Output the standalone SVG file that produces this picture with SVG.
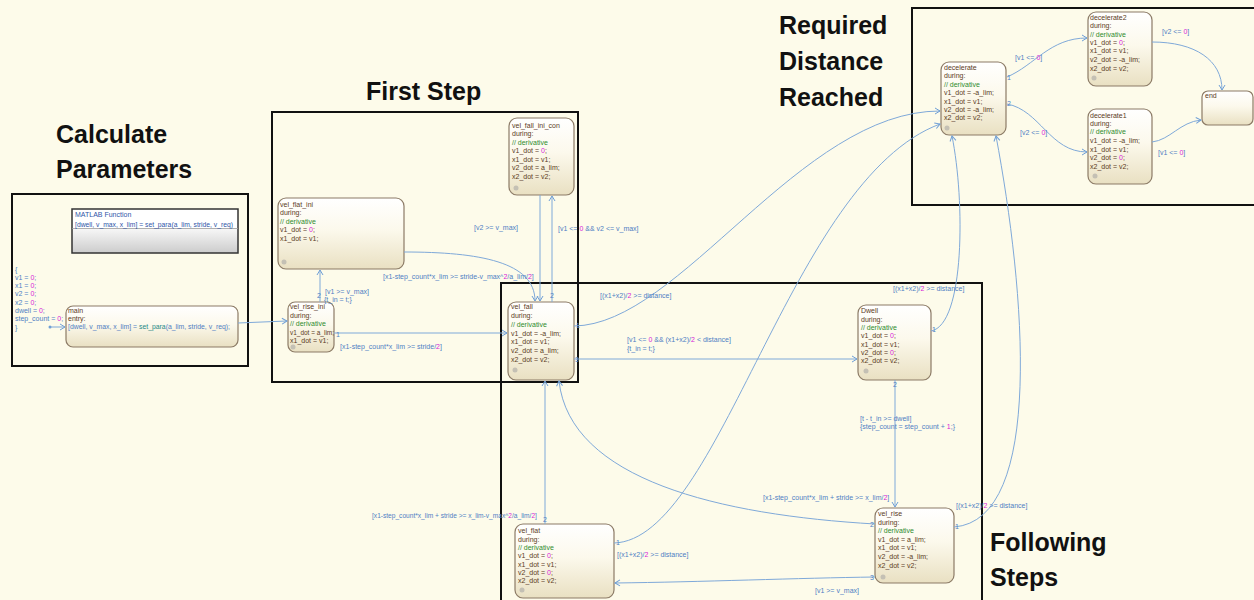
<svg xmlns="http://www.w3.org/2000/svg" width="1254" height="600" viewBox="0 0 1254 600">
<defs>
<linearGradient id="sg" x1="0" y1="0" x2="0" y2="1">
<stop offset="0" stop-color="#ffffff"/>
<stop offset="0.45" stop-color="#fcf9ec"/>
<stop offset="1" stop-color="#e9e0c2"/>
</linearGradient>
<linearGradient id="mg" x1="0" y1="0" x2="0" y2="1">
<stop offset="0" stop-color="#ffffff"/>
<stop offset="0.44" stop-color="#ffffff"/>
<stop offset="0.46" stop-color="#f6f6f6"/>
<stop offset="1" stop-color="#cccccc"/>
</linearGradient>
<marker id="ar" markerUnits="userSpaceOnUse" markerWidth="8" markerHeight="8" refX="6" refY="4" orient="auto">
<path d="M1,1 L6,4 L1,7" fill="none" stroke="#6f9fd6" stroke-width="1"/>
</marker>
<style>
.hd{font-family:"Liberation Sans",Arial,sans-serif;font-weight:bold;font-size:25px;fill:#111}
.bx{fill:none;stroke:#111;stroke-width:2}
.st{fill:url(#sg);stroke:#8c7b66;stroke-width:1.2}
.tx{font-family:"Liberation Sans",Arial,sans-serif;font-size:7px;fill:#5b3b1c}
.cm{fill:#2e8b2e}
.nm{fill:#d81bd8}
.lb{font-family:"Liberation Sans",Arial,sans-serif;font-size:7px;fill:#4f80c4}
.fn{fill:#1f8a8a}
.tr{fill:none;stroke:#7fa9d9;stroke-width:1;marker-end:url(#ar)}
.dot{fill:#c4c0b4}
</style>
</defs>
<rect x="0" y="0" width="1254" height="600" fill="#fdfbea"/>

<g id="headings">
<text class="hd" x="56" y="143">Calculate</text>
<text class="hd" x="56" y="178">Parameters</text>
<text class="hd" x="366" y="100">First Step</text>
<text class="hd" x="779" y="34">Required</text>
<text class="hd" x="779" y="70">Distance</text>
<text class="hd" x="779" y="106">Reached</text>
<text class="hd" x="990" y="551">Following</text>
<text class="hd" x="990" y="586">Steps</text>
</g>

<g id="frames">
<rect class="bx" x="12" y="194" width="236" height="172"/>
<rect class="bx" x="272" y="112" width="306" height="270"/>
<rect class="bx" x="501" y="283" width="481" height="330"/>
<rect class="bx" x="912" y="8" width="350" height="197"/>
</g>

<g id="init">
<text class="lb" x="15" y="271.5">{</text>
<text class="lb" x="15" y="279.8">v1 = <tspan class="nm">0</tspan>;</text>
<text class="lb" x="15" y="288.1">x1 = <tspan class="nm">0</tspan>;</text>
<text class="lb" x="15" y="296.4">v2 = <tspan class="nm">0</tspan>;</text>
<text class="lb" x="15" y="304.7">x2 = <tspan class="nm">0</tspan>;</text>
<text class="lb" x="15" y="313">dwell = <tspan class="nm">0</tspan>;</text>
<text class="lb" x="15" y="321.3">step_count = <tspan class="nm">0</tspan>;</text>
<text class="lb" x="15" y="329.6">}</text>
</g>

<g id="matlab_function">
<rect x="72" y="209" width="166" height="44" fill="url(#mg)" stroke="#333" stroke-width="1.5"/>
<line x1="72" y1="228.5" x2="238" y2="228.5" stroke="#9a9a9a" stroke-width="0.8"/>
<text class="lb" x="75" y="216.5" style="fill:#2f55a8">MATLAB Function</text>
<text class="lb" x="75" y="226.5" style="fill:#2f55a8" textLength="158" lengthAdjust="spacingAndGlyphs">[dwell, v_max, x_lim] = set_para(a_lim, stride, v_req)</text>
</g>

<g id="main">
<rect class="st" x="66" y="306" width="172" height="41" rx="7"/>
<text class="tx" x="68" y="312.5">main</text>
<text class="tx" x="68" y="320.5">entry:</text>
<text class="lb" x="68" y="329" textLength="162" lengthAdjust="spacingAndGlyphs">[dwell, v_max, x_lim] = <tspan class="fn">set_para</tspan>(a_lim, stride, v_req);</text>
</g>

<g id="vel_flat_ini">
<rect class="st" x="278" y="198" width="126" height="71" rx="8"/>
<text class="tx" x="280" y="206.5">vel_flat_ini</text>
<text class="tx" x="280" y="215">during:</text>
<text class="tx cm" x="280" y="223.5">// derivative</text>
<text class="tx" x="280" y="232">v1_dot = <tspan class="nm">0</tspan>;</text>
<text class="tx" x="280" y="240.5">x1_dot = v1;</text>
<circle class="dot" cx="284" cy="262" r="2.5"/>
</g>

<g id="vel_fall_ini_con">
<rect class="st" x="509" y="118" width="65" height="77" rx="8"/>
<text class="tx" x="512" y="127.5">vel_fall_ini_con</text>
<text class="tx" x="512" y="136">during:</text>
<text class="tx cm" x="512" y="144.5">// derivative</text>
<text class="tx" x="512" y="153">v1_dot = <tspan class="nm">0</tspan>;</text>
<text class="tx" x="512" y="161.5">x1_dot = v1;</text>
<text class="tx" x="512" y="170">v2_dot = a_lim;</text>
<text class="tx" x="512" y="178.5">x2_dot = v2;</text>
<circle class="dot" cx="516" cy="188" r="2.5"/>
</g>

<g id="vel_rise_ini">
<rect class="st" x="288" y="302" width="46" height="50" rx="7"/>
<text class="tx" x="290" y="309">vel_rise_ini</text>
<text class="tx" x="290" y="317.5">during:</text>
<text class="tx cm" x="290" y="326">// derivative</text>
<text class="tx" x="290" y="334.5" textLength="44" lengthAdjust="spacingAndGlyphs">v1_dot = a_lim;</text>
<text class="tx" x="290" y="343">x1_dot = v1;</text>
<circle class="dot" cx="293" cy="347" r="2.5"/>
</g>

<g id="vel_fall">
<rect class="st" x="508" y="302" width="66" height="78" rx="8"/>
<text class="tx" x="511" y="309">vel_fall</text>
<text class="tx" x="511" y="317.5">during:</text>
<text class="tx cm" x="511" y="326.5">// derivative</text>
<text class="tx" x="511" y="335.5">v1_dot = -a_lim;</text>
<text class="tx" x="511" y="344">x1_dot = v1;</text>
<text class="tx" x="511" y="352.5">v2_dot = a_lim;</text>
<text class="tx" x="511" y="362">x2_dot = v2;</text>
<circle class="dot" cx="515" cy="370" r="2.5"/>
</g>

<g id="Dwell">
<rect class="st" x="858" y="305" width="73" height="75" rx="8"/>
<text class="tx" x="861" y="313">Dwell</text>
<text class="tx" x="861" y="321.8">during:</text>
<text class="tx cm" x="861" y="329.8">// derivative</text>
<text class="tx" x="861" y="338.2">v1_dot = <tspan class="nm">0</tspan>;</text>
<text class="tx" x="861" y="346.5">x1_dot = v1;</text>
<text class="tx" x="861" y="354.8">v2_dot = <tspan class="nm">0</tspan>;</text>
<text class="tx" x="861" y="363.2">x2_dot = v2;</text>
<circle class="dot" cx="866" cy="371" r="2.5"/>
</g>

<g id="vel_rise">
<rect class="st" x="875" y="508" width="79" height="75" rx="8"/>
<text class="tx" x="878" y="515.8">vel_rise</text>
<text class="tx" x="878" y="524.8">during:</text>
<text class="tx cm" x="878" y="533.2">// derivative</text>
<text class="tx" x="878" y="541.8">v1_dot = a_lim;</text>
<text class="tx" x="878" y="550.2">x1_dot = v1;</text>
<text class="tx" x="878" y="559.2">v2_dot = -a_lim;</text>
<text class="tx" x="878" y="568.2">x2_dot = v2;</text>
<circle class="dot" cx="883" cy="577" r="2.5"/>
</g>

<g id="vel_flat">
<rect class="st" x="515" y="524" width="99" height="74" rx="8"/>
<text class="tx" x="518" y="532.5">vel_flat</text>
<text class="tx" x="518" y="541.5">during:</text>
<text class="tx cm" x="518" y="549.8">// derivative</text>
<text class="tx" x="518" y="558.2">v1_dot = <tspan class="nm">0</tspan>;</text>
<text class="tx" x="518" y="566.5">x1_dot = v1;</text>
<text class="tx" x="518" y="574.8">v2_dot = <tspan class="nm">0</tspan>;</text>
<text class="tx" x="518" y="583.2">x2_dot = v2;</text>
<circle class="dot" cx="522" cy="590" r="2.5"/>
</g>

<g id="decelerate">
<rect class="st" x="941" y="62" width="65" height="73" rx="8"/>
<text class="tx" x="944" y="69.8">decelerate</text>
<text class="tx" x="944" y="78.2">during:</text>
<text class="tx cm" x="944" y="86.8">// derivative</text>
<text class="tx" x="944" y="95.2">v1_dot = -a_lim;</text>
<text class="tx" x="944" y="103.5">x1_dot = v1;</text>
<text class="tx" x="944" y="111.8">v2_dot = -a_lim;</text>
<text class="tx" x="944" y="120.2">x2_dot = v2;</text>
<circle class="dot" cx="947" cy="128" r="2.5"/>
</g>

<g id="decelerate2">
<rect class="st" x="1088" y="12" width="64" height="74" rx="8"/>
<text class="tx" x="1090" y="19.8">decelerate2</text>
<text class="tx" x="1090" y="28.2">during:</text>
<text class="tx cm" x="1090" y="36.5">// derivative</text>
<text class="tx" x="1090" y="44.8">v1_dot = <tspan class="nm">0</tspan>;</text>
<text class="tx" x="1090" y="53.2">x1_dot = v1;</text>
<text class="tx" x="1090" y="61.8">v2_dot = -a_lim;</text>
<text class="tx" x="1090" y="70.8">x2_dot = v2;</text>
<circle class="dot" cx="1094" cy="78" r="2.5"/>
</g>

<g id="decelerate1">
<rect class="st" x="1088" y="109" width="64" height="75" rx="8"/>
<text class="tx" x="1090" y="117.5">decelerate1</text>
<text class="tx" x="1090" y="125.8">during:</text>
<text class="tx cm" x="1090" y="134.2">// derivative</text>
<text class="tx" x="1090" y="142.8">v1_dot = -a_lim;</text>
<text class="tx" x="1090" y="151.5">x1_dot = v1;</text>
<text class="tx" x="1090" y="159.8">v2_dot = <tspan class="nm">0</tspan>;</text>
<text class="tx" x="1090" y="168.5">x2_dot = v2;</text>
<circle class="dot" cx="1095" cy="176" r="2.5"/>
</g>

<g id="end">
<rect class="st" x="1202" y="91" width="51" height="34" rx="6"/>
<text class="tx" x="1205" y="98">end</text>
</g>

<g id="connectors">
<circle cx="50" cy="327" r="1.5" fill="#6f9fd6"/>
<path class="tr" d="M51,327 L65,327"/>
<path class="tr" d="M238,323 L287,321"/>
<path class="tr" d="M320,302 L320,270"/>
<path class="tr" d="M404,252 C480,252 535,262 535,301"/>
<path class="tr" d="M334,333 L507,333"/>
<path class="tr" d="M540,195 L540,301"/>
<path class="tr" d="M552,302 L552,196"/>
<path class="tr" d="M574,326 C680,325 800,111 940,111"/>
<path class="tr" d="M574,359 L857,359"/>
<path class="tr" d="M614,543 C720,540 790,180 940,124"/>
<path class="tr" d="M545,524 L545,381"/>
<path class="tr" d="M875,524 C720,515 570,480 559,381"/>
<path class="tr" d="M895,380 L895,507"/>
<path class="tr" d="M875,577 C800,578 700,582 615,583"/>
<path class="tr" d="M931,331 C965,325 965,200 952,136"/>
<path class="tr" d="M954,527 C1045,520 1025,290 996,136"/>
<path class="tr" d="M1007,77 C1035,65 1050,38 1087,38"/>
<path class="tr" d="M1007,104 C1040,110 1050,152 1087,152"/>
<path class="tr" d="M1152,42 C1195,42 1222,60 1222,90"/>
<path class="tr" d="M1152,142 C1170,140 1180,122 1201,120"/>

<text class="lb" x="325" y="293.5">[v1 &gt;= v_max]</text>
<text class="lb" x="324" y="301.5">{t_in = t;}</text>
<text class="lb" x="383" y="278.5">[x1-step_count*x_lim &gt;= stride-v_max^<tspan class="nm">2</tspan>/a_lim/<tspan class="nm">2</tspan>]</text>
<text class="lb" x="340" y="349">[x1-step_count*x_lim &gt;= stride/<tspan class="nm">2</tspan>]</text>
<text class="lb" x="474" y="229.5">[v2 &gt;= v_max]</text>
<text class="lb" x="558" y="230.5">[v1 &lt;= <tspan class="nm">0</tspan> &amp;&amp; v2 &lt;= v_max]</text>
<text class="lb" x="600" y="297.5">[(x1+x2)/<tspan class="nm">2</tspan> &gt;= distance]</text>
<text class="lb" x="627" y="341.5">[v1 &lt;= <tspan class="nm">0</tspan> &amp;&amp; (x1+x2)/<tspan class="nm">2</tspan> &lt; distance]</text>
<text class="lb" x="627" y="350.5">{t_in = t;}</text>
<text class="lb" x="893" y="290.5">[(x1+x2)/<tspan class="nm">2</tspan> &gt;= distance]</text>
<text class="lb" x="860" y="420.5">[t - t_in &gt;= dwell]</text>
<text class="lb" x="860" y="428.5">{step_count = step_count + <tspan class="nm">1</tspan>;}</text>
<text class="lb" x="763" y="499.5">[x1-step_count*x_lim + stride &gt;= x_lim/<tspan class="nm">2</tspan>]</text>
<text class="lb" x="956" y="507.5">[(x1+x2)/<tspan class="nm">2</tspan> &gt;= distance]</text>
<text class="lb" x="372" y="517.5" style="font-size:6.6px">[x1-step_count*x_lim + stride &gt;= x_lim-v_max^<tspan class="nm">2</tspan>/a_lim/<tspan class="nm">2</tspan>]</text>
<text class="lb" x="617" y="556.5">[(x1+x2)/<tspan class="nm">2</tspan> &gt;= distance]</text>
<text class="lb" x="815" y="592.5">[v1 &gt;= v_max]</text>
<text class="lb" x="1015" y="59.5">[v1 &lt;= <tspan class="nm">0</tspan>]</text>
<text class="lb" x="1020" y="134.5">[v2 &lt;= <tspan class="nm">0</tspan>]</text>
<text class="lb" x="1162" y="33.5">[v2 &lt;= <tspan class="nm">0</tspan>]</text>
<text class="lb" x="1158" y="154.5">[v1 &lt;= <tspan class="nm">0</tspan>]</text>

<text class="lb" x="336" y="337">1</text>
<text class="lb" x="317" y="298">2</text>
<text class="lb" x="576" y="327.5">1</text>
<text class="lb" x="550" y="298">2</text>
<text class="lb" x="575" y="361.5">3</text>
<text class="lb" x="616" y="545">1</text>
<text class="lb" x="543" y="521.5">2</text>
<text class="lb" x="932" y="332">1</text>
<text class="lb" x="893" y="387">2</text>
<text class="lb" x="955" y="528.5">1</text>
<text class="lb" x="870" y="526.5">2</text>
<text class="lb" x="870" y="579.5">3</text>
<text class="lb" x="1007" y="80">1</text>
<text class="lb" x="1007" y="106">2</text>
</g>
</svg>
